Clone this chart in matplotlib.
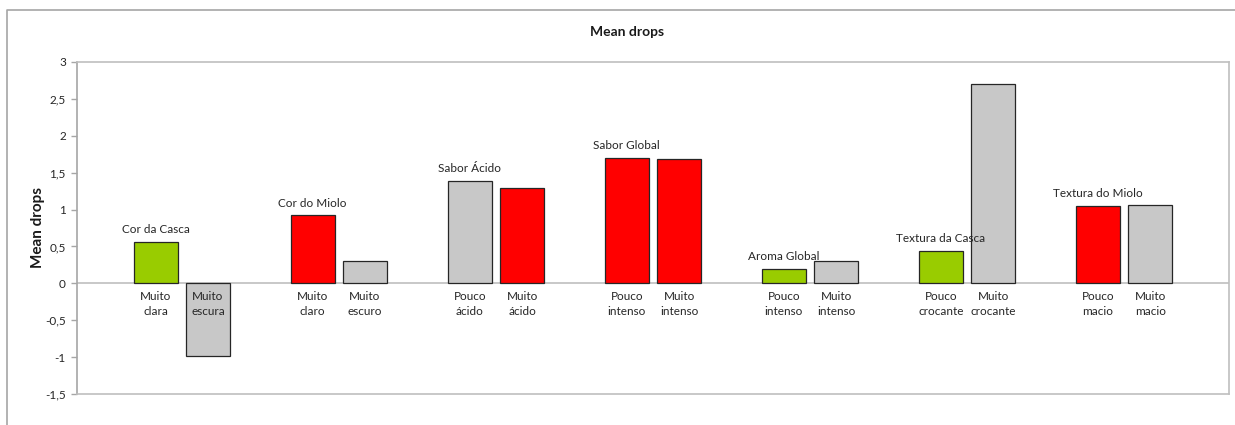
import matplotlib
matplotlib.use("Agg")
import matplotlib.pyplot as plt
from matplotlib.lines import Line2D
from matplotlib.ticker import FuncFormatter

plt.rcParams['font.family'] = ['Lato', 'DejaVu Sans']

# ------------------ dados ------------------
groups = ["Cor da Casca", "Cor do Miolo", "Sabor Ácido", "Sabor Global",
          "Aroma Global", "Textura da Casca", "Textura do Miolo"]
low_labels = ["Muito\nclara", "Muito\nclaro", "Pouco\nácido", "Pouco\nintenso",
              "Pouco\nintenso", "Pouco\ncrocante", "Pouco\nmacio"]
high_labels = ["Muito\nescura", "Muito\nescuro", "Muito\nácido", "Muito\nintenso",
               "Muito\nintenso", "Muito\ncrocante", "Muito\nmacio"]
low_values = [0.56, 0.92, 1.385, 1.70, 0.19, 0.44, 1.05]
high_values = [-0.98, 0.30, 1.29, 1.69, 0.30, 2.70, 1.06]

GREEN, RED, GRAY = "#99CC00", "#FF0000", "#C8C8C8"
low_colors = [GREEN, RED, GRAY, RED, GREEN, GREEN, RED]
high_colors = [GRAY, GRAY, RED, RED, GRAY, GRAY, GRAY]

# ------------------ figura ------------------
fig = plt.figure(figsize=(12.35, 4.25), dpi=100)
ax = fig.add_axes([77 / 1235, 1 - 394 / 425, (1229 - 77) / 1235, (394 - 62) / 425])

x_low = [3 * i for i in range(len(groups))]
x_high = [3 * i + 1 for i in range(len(groups))]
width = 0.84

ax.bar(x_low, low_values, width=width, color=low_colors, edgecolor="#262626", linewidth=0.9, zorder=3)
ax.bar(x_high, high_values, width=width, color=high_colors, edgecolor="#262626", linewidth=0.9, zorder=3)

ax.axhline(0, color="#BFBFBF", linewidth=1.2, zorder=2)

# rótulos das categorias logo abaixo do zero
for xs, labels in ((x_low, low_labels), (x_high, high_labels)):
    for x, lab in zip(xs, labels):
        ax.annotate(lab, (x, 0), xytext=(0, -5.5), textcoords="offset points",
                    ha="center", va="top", fontsize=8.5, color="#262626",
                    linespacing=1.45, zorder=5)

# nome do atributo acima da primeira barra de cada par
for x, v, name in zip(x_low, low_values, groups):
    ax.annotate(name, (x, max(v, 0)), xytext=(0, 5), textcoords="offset points",
                ha="center", va="bottom", fontsize=8.5, color="#262626", zorder=5)

ax.set_xlim(-1.5, 20.5)
ax.set_ylim(-1.5, 3)
ax.set_yticks([-1.5, -1, -0.5, 0, 0.5, 1, 1.5, 2, 2.5, 3])
ax.yaxis.set_major_formatter(FuncFormatter(lambda v, _: f"{v:g}".replace(".", ",")))
ax.set_xticks([])
ax.tick_params(axis="y", length=4, width=1, color="#A6A6A6", labelsize=8.5,
               labelcolor="#262626", pad=4)

for s in ax.spines.values():
    s.set_color("#BFBFBF")
    s.set_linewidth(1.2)
ax.spines["left"].set_color("#A6A6A6")

ax.set_ylabel("Mean drops", fontsize=11, fontweight="bold", color="#1a1a1a", labelpad=0)

fig.text(627 / 1235, 1 - 32 / 425, "Mean drops", ha="center", va="center",
         fontsize=10, fontweight="bold", color="#1a1a1a")

# moldura externa do gráfico
fig.add_artist(Line2D([7 / 1235, 7 / 1235, 1.0], [0.0, 1 - 10 / 425, 1 - 10 / 425],
                      transform=fig.transFigure, color="#A6A6A6", linewidth=1.2))

fig.savefig("out.png", dpi=100)
